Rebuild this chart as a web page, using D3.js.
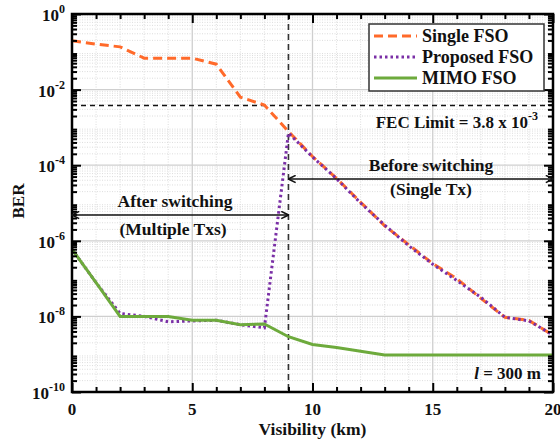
<!DOCTYPE html>
<html>
<head>
<meta charset="utf-8">
<script src="https://cdn.jsdelivr.net/npm/d3@7"></script>
<style>
  body { margin: 0; background: #fff; }
  svg text { font-family: "Liberation Serif", "Times New Roman", serif; font-weight: bold; fill: #111; }
</style>
</head>
<body>
<div id="chart-container"></div>
<script>
// visibility in km
const visibility = [0, 1, 2, 3, 4, 5, 6, 7, 8, 9, 10, 11, 12, 13, 14, 15, 16, 17, 18, 19, 20];

// BER values
const singleFSO = [0.195, 0.16, 0.135, 0.068, 0.068, 0.068, 0.047, 0.0063, 0.0039, 7.8e-4,
  1.7e-4, 4.5e-5, 1.05e-5, 2.5e-6, 7.9e-7, 2.5e-7, 1.0e-7, 3.0e-8, 9.5e-9, 7.8e-9, 3.2e-9];
const proposedFSO = [6e-7, 7.8e-8, 1.2e-8, 1.0e-8, 7.2e-9, 7.6e-9, 7.9e-9, 6.0e-9, 5.0e-9, 7.1e-4,
  1.66e-4, 4.4e-5, 1.0e-5, 2.6e-6, 7.4e-7, 2.4e-7, 8.9e-8, 3.2e-8, 9.5e-9, 7.6e-9, 3.2e-9];
const mimoFSO = [6e-7, 7.8e-8, 1.0e-8, 1.0e-8, 1.0e-8, 7.9e-9, 7.9e-9, 6.0e-9, 6.3e-9, 2.9e-9,
  1.8e-9, 1.5e-9, 1.2e-9, 9.5e-10, 9.5e-10, 9.5e-10, 9.5e-10, 9.5e-10, 9.5e-10, 9.5e-10, 9.5e-10];

const fecLimit = 3.8e-3;
const switchPoint = 9;
const xTickLabels = [0, 5, 10, 15, 20];
const yExponents = [0, -2, -4, -6, -8, -10];

const series = [
  { name: "Single FSO", values: singleFSO, color: "#ff6a2a", dash: "9,5" },
  { name: "Proposed FSO", values: proposedFSO, color: "#7a2fa6", dash: "2.5,3" },
  { name: "MIMO FSO", values: mimoFSO, color: "#6daa3c", dash: null }
];

const width = 560, height = 443;
const margin = { top: 14, right: 7, bottom: 51, left: 72 };
const innerW = width - margin.left - margin.right;
const innerH = height - margin.top - margin.bottom;

const svg = d3.select("#chart-container")
  .append("svg")
  .attr("width", width)
  .attr("height", height);

const g = svg.append("g")
  .attr("transform", `translate(${margin.left},${margin.top})`);

const xScale = d3.scaleLinear().domain([0, 20]).range([0, innerW]);
const yScale = d3.scaleLog().domain([1e-10, 1]).range([innerH, 0]);

// minor log positions
const minorY = [];
for (let e = -10; e < 0; e++) {
  for (let m = 2; m <= 9; m++) minorY.push(m * Math.pow(10, e));
}
const majorY = yExponents.map(e => Math.pow(10, e));
const minorX = d3.range(1, 20).filter(d => d % 5 !== 0);

// minor grid
g.append("g").selectAll("line")
  .data(minorY)
  .enter().append("line")
  .attr("x1", 0).attr("x2", innerW)
  .attr("y1", d => yScale(d)).attr("y2", d => yScale(d))
  .attr("stroke", "#d4d4d4").attr("stroke-width", 0.8)
  .attr("stroke-dasharray", "1,1.5");

g.append("g").selectAll("line")
  .data(minorX)
  .enter().append("line")
  .attr("x1", d => xScale(d)).attr("x2", d => xScale(d))
  .attr("y1", 0).attr("y2", innerH)
  .attr("stroke", "#d4d4d4").attr("stroke-width", 0.8)
  .attr("stroke-dasharray", "1,1.5");

// major grid
g.append("g").selectAll("line")
  .data(majorY.slice(1, -1))
  .enter().append("line")
  .attr("x1", 0).attr("x2", innerW)
  .attr("y1", d => yScale(d)).attr("y2", d => yScale(d))
  .attr("stroke", "#cfcfcf").attr("stroke-width", 1.3);

g.append("g").selectAll("line")
  .data([5, 10, 15])
  .enter().append("line")
  .attr("x1", d => xScale(d)).attr("x2", d => xScale(d))
  .attr("y1", 0).attr("y2", innerH)
  .attr("stroke", "#cfcfcf").attr("stroke-width", 1.3);

// FEC limit and switching line
g.append("line")
  .attr("x1", 0).attr("x2", innerW)
  .attr("y1", yScale(fecLimit)).attr("y2", yScale(fecLimit))
  .attr("stroke", "#111").attr("stroke-width", 1.3)
  .attr("stroke-dasharray", "5,4");

g.append("line")
  .attr("x1", xScale(switchPoint)).attr("x2", xScale(switchPoint))
  .attr("y1", 0).attr("y2", innerH)
  .attr("stroke", "#333").attr("stroke-width", 1.6)
  .attr("stroke-dasharray", "6,4");

// curves
const line = d3.line()
  .x((d, i) => xScale(visibility[i]))
  .y(d => yScale(d));

series.forEach(s => {
  g.append("path")
    .datum(s.values)
    .attr("d", line)
    .attr("fill", "none")
    .attr("stroke", s.color)
    .attr("stroke-width", 3)
    .attr("stroke-dasharray", s.dash);
});

// axes: ticks inward on all four sides
const xMajor = d3.axisBottom(xScale).tickValues(xTickLabels).tickSize(-9).tickFormat("");
const xMinor = d3.axisBottom(xScale).tickValues(minorX).tickSize(-5).tickFormat("");
g.append("g").attr("transform", `translate(0,${innerH})`).call(xMajor);
g.append("g").attr("transform", `translate(0,${innerH})`).call(xMinor);
g.append("g").call(d3.axisTop(xScale).tickValues(xTickLabels).tickSize(-9).tickFormat(""));
g.append("g").call(d3.axisTop(xScale).tickValues(minorX).tickSize(-5).tickFormat(""));

const yMajor = d3.axisLeft(yScale).tickValues(majorY).tickSize(-9).tickFormat("");
const yMinor = d3.axisLeft(yScale).tickValues(minorY).tickSize(-5).tickFormat("");
g.append("g").call(yMajor);
g.append("g").call(yMinor);
g.append("g").attr("transform", `translate(${innerW},0)`)
  .call(d3.axisRight(yScale).tickValues(majorY).tickSize(-9).tickFormat(""));
g.append("g").attr("transform", `translate(${innerW},0)`)
  .call(d3.axisRight(yScale).tickValues(minorY).tickSize(-5).tickFormat(""));

g.selectAll(".domain").remove();
g.selectAll(".tick line").attr("stroke", "#000").attr("stroke-width", 2);

// frame
g.append("rect")
  .attr("x", 0).attr("y", 0)
  .attr("width", innerW).attr("height", innerH)
  .attr("fill", "none").attr("stroke", "#000").attr("stroke-width", 2.5);

// tick labels
g.append("g").selectAll("text")
  .data(xTickLabels)
  .enter().append("text")
  .attr("x", d => xScale(d))
  .attr("y", innerH + 23)
  .attr("text-anchor", "middle")
  .style("font-size", "17px")
  .text(d => d);

const yLab = g.append("g").selectAll("text")
  .data(yExponents)
  .enter().append("text")
  .attr("x", -7)
  .attr("y", d => yScale(Math.pow(10, d)) + 7)
  .attr("text-anchor", "end")
  .style("font-size", "17px");
yLab.append("tspan").text("10");
yLab.append("tspan").attr("dy", -8).style("font-size", "12px").text(d => d === 0 ? "0" : "-" + (-d));

// axis titles
svg.append("text")
  .attr("x", margin.left + xScale(10))
  .attr("y", 435)
  .attr("text-anchor", "middle")
  .style("font-size", "17.5px")
  .text("Visibility (km)");

svg.append("text")
  .attr("transform", `translate(24,201) rotate(-90)`)
  .attr("text-anchor", "middle")
  .style("font-size", "17px")
  .text("BER");

// FEC label
const fec = g.append("text")
  .attr("x", innerW - 15)
  .attr("y", yScale(fecLimit) + 23)
  .attr("text-anchor", "end")
  .style("font-size", "17px");
fec.append("tspan").text("FEC Limit = 3.8 x 10");
fec.append("tspan").attr("dy", -8).style("font-size", "12px").text("-3");

// switching arrows
const defs = svg.append("defs");
defs.append("marker")
  .attr("id", "arrow")
  .attr("viewBox", "0 0 10 10")
  .attr("refX", 9).attr("refY", 5)
  .attr("markerWidth", 9).attr("markerHeight", 9)
  .attr("markerUnits", "userSpaceOnUse")
  .attr("orient", "auto-start-reverse")
  .append("path")
  .attr("d", "M1,1 L9,5 L1,9")
  .attr("fill", "none").attr("stroke", "#111").attr("stroke-width", 1.8);

const beforeY = 179 - margin.top;
const afterY = 215 - margin.top;

g.append("line")
  .attr("x1", xScale(switchPoint)).attr("x2", xScale(20))
  .attr("y1", beforeY).attr("y2", beforeY)
  .attr("stroke", "#111").attr("stroke-width", 1.6)
  .attr("marker-start", "url(#arrow)").attr("marker-end", "url(#arrow)");

g.append("line")
  .attr("x1", xScale(0)).attr("x2", xScale(switchPoint))
  .attr("y1", afterY).attr("y2", afterY)
  .attr("stroke", "#111").attr("stroke-width", 1.6)
  .attr("marker-start", "url(#arrow)").attr("marker-end", "url(#arrow)");

const noteSize = "17.5px";
g.append("text").attr("x", 431 - margin.left).attr("y", 171 - margin.top)
  .attr("text-anchor", "middle").style("font-size", noteSize).text("Before switching");
g.append("text").attr("x", 431 - margin.left).attr("y", 195 - margin.top)
  .attr("text-anchor", "middle").style("font-size", noteSize).text("(Single Tx)");
g.append("text").attr("x", 175 - margin.left).attr("y", 207 - margin.top)
  .attr("text-anchor", "middle").style("font-size", noteSize).text("After switching");
g.append("text").attr("x", 173 - margin.left).attr("y", 235 - margin.top)
  .attr("text-anchor", "middle").style("font-size", noteSize).text("(Multiple Txs)");

// l = 300 m
const lt = g.append("text")
  .attr("x", innerW - 12)
  .attr("y", 379 - margin.top)
  .attr("text-anchor", "end")
  .style("font-size", "17px");
lt.append("tspan").style("font-style", "italic").text("l");
lt.append("tspan").text(" = 300 m");

// legend
const legend = svg.append("g").attr("transform", "translate(369,24)");
legend.append("rect")
  .attr("width", 175).attr("height", 67)
  .attr("fill", "#fff").attr("stroke", "#333").attr("stroke-width", 1.5);

series.forEach((s, i) => {
  const row = legend.append("g").attr("transform", `translate(0,${12 + i * 21})`);
  row.append("line")
    .attr("x1", 5).attr("x2", 48)
    .attr("stroke", s.color).attr("stroke-width", 3)
    .attr("stroke-dasharray", s.dash);
  row.append("text")
    .attr("x", 53).attr("y", 6)
    .style("font-size", "18px")
    .text(s.name);
});
</script>
</body>
</html>
